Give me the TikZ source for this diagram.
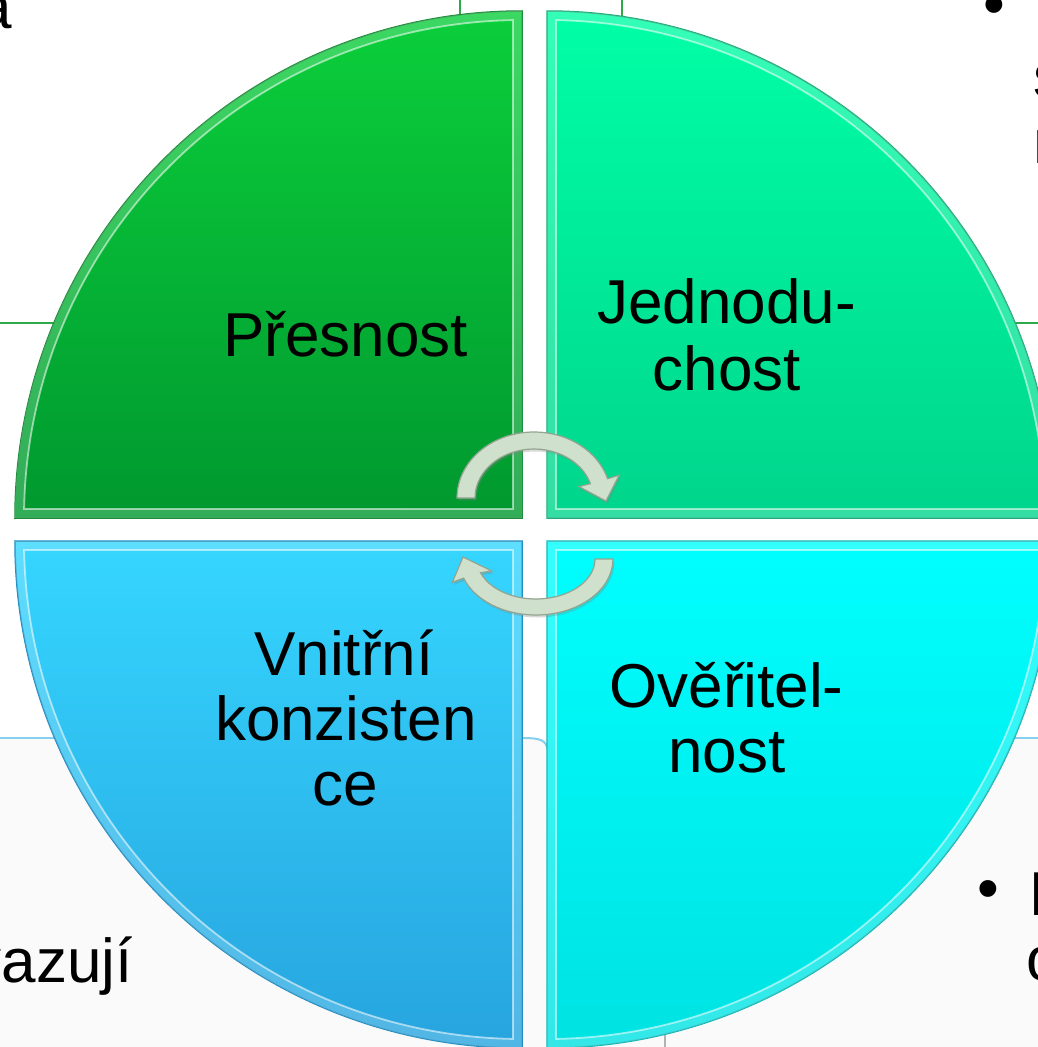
\documentclass[tikz,border=0pt]{standalone}
\usepackage{fontspec}
\setmainfont{Liberation Sans}
\usetikzlibrary{shadows}
\definecolor{tlTop}{HTML}{0BCF3B}
\definecolor{tlBot}{HTML}{00982F}
\definecolor{tlEdge}{HTML}{1A8C38}
\definecolor{trTop}{HTML}{00FFA6}
\definecolor{trBot}{HTML}{00D58C}
\definecolor{trEdge}{HTML}{1AAA78}
\definecolor{blTop}{HTML}{35D6FF}
\definecolor{blBot}{HTML}{27A4DE}
\definecolor{blEdge}{HTML}{1E8CC0}
\definecolor{brTop}{HTML}{00FFFF}
\definecolor{brBot}{HTML}{00E2E2}
\definecolor{brEdge}{HTML}{10B5B5}
\definecolor{arrowFill}{HTML}{CFE0CC}
\definecolor{arrowEdge}{HTML}{93A590}
\definecolor{gridGreen}{HTML}{2EAA4A}
\definecolor{gridBlue}{HTML}{86CFEE}
\definecolor{offWhite}{HTML}{FAFAFA}
\newcommand\qpie[6]{%
  \pgfmathsetmacro\qa{#3+1.04}\pgfmathsetmacro\qb{#3+88.96}\pgfmathsetmacro\qe{#3+90}%
  \pgfmathsetmacro\qix{#1+9*#4}\pgfmathsetmacro\qiy{#2+9*#5}%
  \path[#6] (#1,#2) -- ([shift={(#1,#2)}]#3:507) arc[start angle=#3,end angle=\qe,radius=507] -- cycle;
  \fill[bandfill,even odd rule] (#1,#2) -- ([shift={(#1,#2)}]#3:507) arc[start angle=#3,end angle=\qe,radius=507] -- cycle
     (\qix,\qiy) -- ([shift={(#1,#2)}]\qa:498) arc[start angle=\qa,end angle=\qb,radius=498] -- cycle;
  \draw[bevelline] (\qix,\qiy) -- ([shift={(#1,#2)}]\qa:498) arc[start angle=\qa,end angle=\qb,radius=498] -- cycle;
}
\begin{document}
\begin{tikzpicture}[x=1pt,y=-1pt,
  lbl/.style={font=\fontsize{62}{66}\selectfont, inner sep=0pt, anchor=base, text=black},
  sidetxt/.style={font=\fontsize{62}{66}\selectfont, inner sep=0pt, text=black},
  bandfill/.style={fill=white, fill opacity=0.2},
  bevelline/.style={draw=white, draw opacity=0.55, line width=1.8},
  tlq/.style={top color=tlTop, bottom color=tlBot, draw=tlEdge, line width=1.5},
  trq/.style={top color=trTop, bottom color=trBot, draw=trEdge, line width=1.5},
  blq/.style={top color=blTop, bottom color=blBot, draw=blEdge, line width=1.5},
  brq/.style={top color=brTop, bottom color=brBot, draw=brEdge, line width=1.5},
  cyclearrow/.style={fill=arrowFill, draw=arrowEdge, line width=1.2,
     drop shadow={opacity=0.3, shadow xshift=1.5pt, shadow yshift=-2.5pt}},
  gridline/.style={line width=2},
]
\useasboundingbox (0,0) rectangle (1038,1047);
\clip (0,0) rectangle (1038,1047);
% background
\fill[white] (0,0) rectangle (1038,1047);
\fill[offWhite] (0,739) rectangle (1038,1047);
\draw[gridline, gridGreen] (0,323) -- (70,323);
\draw[gridline, gridGreen] (1000,323) -- (1038,323);
\draw[gridline, gridGreen] (460,0) -- (460,40);
\draw[gridline, gridGreen] (622,0) -- (622,40);
\draw[gridline, gridBlue] (0,738) -- (70,738);
\draw[gridline, gridBlue] (1000,738) -- (1038,738);
\draw[gridline, gridBlue] (523,738) .. controls (540,738) and (546,740) .. (548,750);
\draw[line width=1.5, gray!60] (665,1033) -- (665,1047);
% background texts
\node[sidetxt, anchor=base east] (ta) at (12,28) {a};
\node[sidetxt, anchor=base east] (tv) at (133,982) {vazují};
\node[sidetxt, anchor=base west] (b1) at (983,25) {•};
\node[sidetxt, anchor=base west] (t1) at (1033,97) {s};
\node[sidetxt, anchor=base west] (t2) at (1033,163) {n};
\node[sidetxt, anchor=base west] (b2) at (977,909) {•};
\node[sidetxt, anchor=base west] (t3) at (1029,915) {P};
\node[sidetxt, anchor=base west] (t4) at (1026,980) {o};
% quadrants
\qpie{522}{518}{180}{-1}{-1}{tlq}
\qpie{547}{518}{270}{1}{-1}{trq}
\qpie{547}{541}{0}{1}{1}{brq}
\qpie{522}{541}{90}{-1}{1}{blq}
% labels
\node[lbl] (p1) at (345.5,356) {Přesnost};
\node[lbl] (j1) at (726.5,323) {Jednodu-};
\node[lbl] (j2) at (727,390) {chost};
\node[lbl] (v1) at (344,675) {Vnitřní};
\node[lbl] (v2) at (346,740) {konzisten};
\node[lbl] (v3) at (345,805) {ce};
\node[lbl] (o1) at (726.5,707) {Ověřitel-};
\node[lbl] (o2) at (726.7,772) {nost};
% cycle arrows
\begin{scope}[shift={(534,498)}]
\fill[cyclearrow] (-77,0) arc[start angle=180,end angle=343,x radius=77,y radius=66]
   -- (343:89 and 78) -- (72,3) -- (343:47 and 39) -- (343:59 and 49)
   arc[start angle=343,end angle=180,x radius=59,y radius=49] -- cycle;
\end{scope}
\begin{scope}[shift={(536,559)}]
\fill[cyclearrow] (77,0) arc[start angle=0,end angle=160,x radius=77,y radius=56]
   -- (160:89 and 68) -- (-73,-2) -- (160:47 and 35) -- (160:59 and 40)
   arc[start angle=160,end angle=0,x radius=59,y radius=40] -- cycle;
\end{scope}
\end{tikzpicture}
\end{document}
